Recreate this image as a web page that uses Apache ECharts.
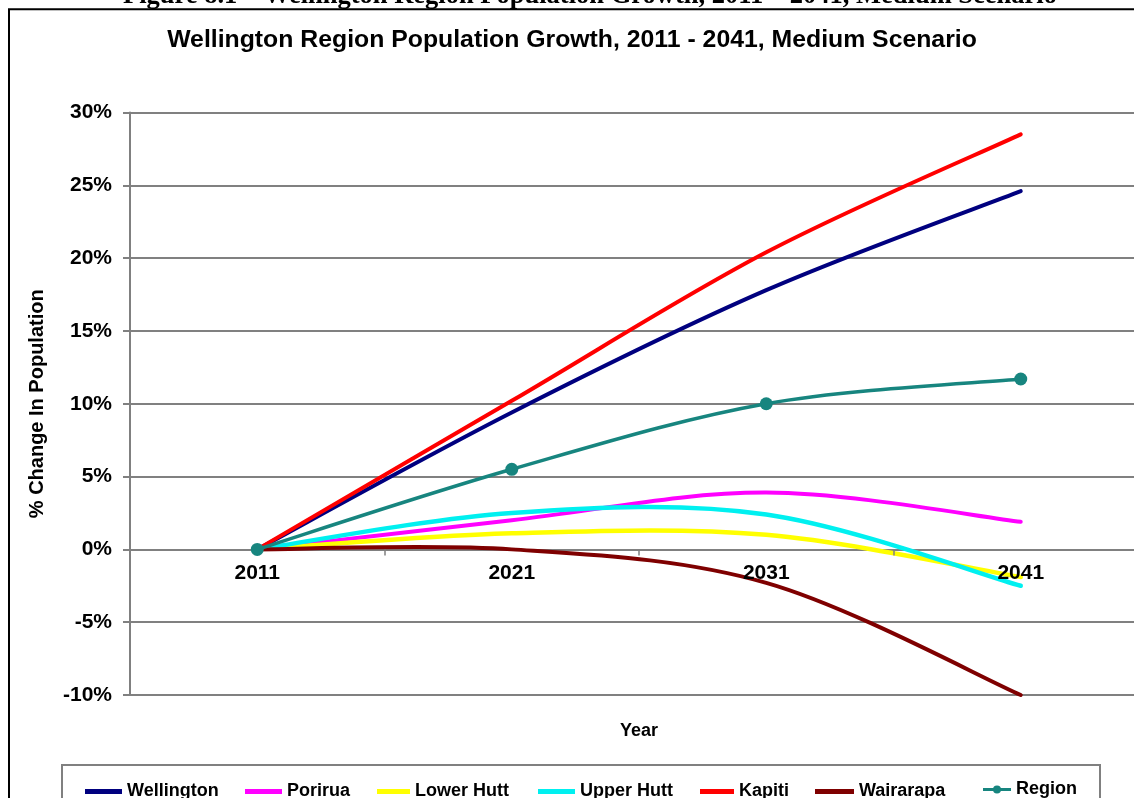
<!DOCTYPE html>
<html>
<head>
<meta charset="utf-8">
<script src="https://cdn.jsdelivr.net/npm/echarts@6/dist/echarts.min.js"></script>
<style>
html,body{margin:0;padding:0;background:#fff;}
#chart{width:1134px;height:798px;}
</style>
</head>
<body>
<div id="chart"></div>
<script>
const years = ['2011', '2021', '2031', '2041'];
const wellington = [0, 9.4, 17.8, 24.6];
const porirua = [0, 2.0, 3.9, 1.9];
const lowerHutt = [0, 1.1, 1.0, -1.9];
const upperHutt = [0, 2.5, 2.4, -2.5];
const kapiti = [0, 10.2, 20.4, 28.5];
const wairarapa = [0, 0.0, -2.3, -10.0];
const region = [0, 5.5, 10.0, 11.7];
const yTicks = [-10, -5, 0, 5, 10, 15, 20, 25, 30];

const seriesDefs = [
  {name: 'Wellington', data: wellington, color: '#00007f', width: 4},
  {name: 'Porirua', data: porirua, color: '#ff00ff', width: 4},
  {name: 'Lower Hutt', data: lowerHutt, color: '#ffff00', width: 4.5},
  {name: 'Upper Hutt', data: upperHutt, color: '#00f0f0', width: 4.5},
  {name: 'Kapiti', data: kapiti, color: '#ff0000', width: 4},
  {name: 'Wairarapa', data: wairarapa, color: '#7f0000', width: 4},
  {name: 'Region', data: region, color: '#17857f', width: 3.5, marker: true}
];
const legendLeft = [85, 245, 377, 538, 700, 815, 983];
const legendIconW = [37, 37, 33, 37, 34, 39, 28];

const chart = echarts.init(document.getElementById('chart'), null, {renderer: 'canvas'});
const font = 'Arial, "Liberation Sans", sans-serif';

const gridTop = 112.5, gridHeight = 582.5;
const yMin = yTicks[0], yMax = yTicks[yTicks.length - 1];
// move the category axis up to the 0% line (where Excel draws it)
const xAxisOffset = -gridHeight * (0 - yMin) / (yMax - yMin);

// Excel-like smoothed line (Catmull-Rom through the data points, mapped by the axes)
function smoothPath(pts) {
  let d = 'M' + pts[0][0] + ',' + pts[0][1];
  const n = pts.length;
  for (let i = 0; i < n - 1; i++) {
    const p0 = pts[Math.max(i - 1, 0)], p1 = pts[i], p2 = pts[i + 1], p3 = pts[Math.min(i + 2, n - 1)];
    const c1x = p1[0] + (p2[0] - p0[0]) / 6, c1y = p1[1] + (p2[1] - p0[1]) / 6;
    const c2x = p2[0] - (p3[0] - p1[0]) / 6, c2y = p2[1] - (p3[1] - p1[1]) / 6;
    d += 'C' + c1x + ',' + c1y + ' ' + c2x + ',' + c2y + ' ' + p2[0] + ',' + p2[1];
  }
  return d;
}

function makeSeries(s) {
  return {
    name: s.name,
    type: 'custom',
    coordinateSystem: 'cartesian2d',
    data: s.data.map((v, i) => [i, v]),
    encode: {x: 0, y: 1},
    itemStyle: {color: s.color},
    clip: false,
    renderItem: function (params, api) {
      const children = [];
      if (params.dataIndex === 0) {
        const pts = s.data.map((v, i) => api.coord([i, v]));
        children.push({
          type: 'path',
          shape: {pathData: smoothPath(pts)},
          style: {stroke: s.color, lineWidth: s.width, fill: null, lineCap: 'round', lineJoin: 'round'}
        });
      }
      if (s.marker) {
        const c = api.coord([api.value(0), api.value(1)]);
        children.push({
          type: 'circle', z2: 5,
          shape: {cx: c[0], cy: c[1], r: 6.5},
          style: {fill: s.color}
        });
      }
      return {type: 'group', children: children};
    }
  };
}

const option = {
  backgroundColor: '#ffffff',
  animation: false,
  textStyle: {fontFamily: font},
  grid: {left: 130, top: gridTop, width: 1018, height: gridHeight, containLabel: false, outerBoundsMode: 'none'},
  xAxis: {
    type: 'category',
    data: years,
    boundaryGap: true,
    z: 10,
    position: 'bottom',
    offset: xAxisOffset,
    axisLine: {show: true, onZero: false, lineStyle: {color: '#808080', width: 2, opacity: 0}},
    axisTick: {show: true, length: 6, lineStyle: {color: '#808080', width: 1.5}},
    axisLabel: {color: '#000', fontSize: 21, fontWeight: 'bold', margin: 13, fontFamily: font},
    splitLine: {show: false},
    name: 'Year',
    nameLocation: 'middle',
    nameGap: 173,
    nameMoveOverlap: false,
    nameTextStyle: {color: '#000', fontSize: 18, fontWeight: 'bold', fontFamily: font}
  },
  yAxis: {
    type: 'value',
    min: yMin,
    max: yMax,
    interval: 5,
    axisLine: {show: true, onZero: false, lineStyle: {color: '#808080', width: 2}},
    axisTick: {show: true, length: 7, lineStyle: {color: '#808080', width: 2}},
    axisLabel: {color: '#000', fontSize: 21, fontWeight: 'bold', margin: 18, formatter: '{value}%', fontFamily: font},
    splitLine: {show: true, lineStyle: {color: '#808080', width: 2}},
    name: '% Change In Population',
    nameLocation: 'middle',
    nameRotate: 90,
    nameGap: 83,
    nameMoveOverlap: false,
    nameTextStyle: {color: '#000', fontSize: 20, fontWeight: 'bold', fontFamily: font}
  },
  legend: seriesDefs.map((s, i) => ({
    data: [{
      name: s.name,
      icon: s.marker ? 'path://M0,4.5H28V7.5H0Z M10,6a4,4 0 1,1 8,0a4,4 0 1,1 -8,0Z' : 'rect'
    }],
    left: legendLeft[i],
    top: s.marker ? 780.5 : 782.5,
    padding: 0,
    itemWidth: legendIconW[i],
    itemHeight: s.marker ? 9 : 5,
    itemGap: 0,
    selectedMode: false,
    itemStyle: {color: s.color, borderWidth: 0},
    textStyle: {color: '#000', fontSize: 18, fontWeight: 'bold', fontFamily: font}
  })),
  series: seriesDefs.map(makeSeries),
  graphic: [
    {type: 'rect', silent: true, z: -1, shape: {x: 9, y: 9.3, width: 1300, height: 1000},
     style: {stroke: '#000', lineWidth: 2, fill: null}},
    {type: 'text', silent: true, x: 590, y: 10, style: {
      text: 'Figure 8.1 \u2013 Wellington Region Population Growth, 2011 \u2013 2041, Medium Scenario',
      fontFamily: '"Times New Roman", "Liberation Serif", serif', fontWeight: 'bold', fontSize: 26.5,
      fill: '#000', textAlign: 'center', textVerticalAlign: 'bottom'}},
    {type: 'text', silent: true, x: 572, y: 40, style: {
      text: 'Wellington Region Population Growth, 2011 - 2041, Medium Scenario',
      fontFamily: font, fontWeight: 'bold', fontSize: 24.8,
      fill: '#000', textAlign: 'center', textVerticalAlign: 'middle'}},
    {type: 'rect', silent: true, z: -1, shape: {x: 62, y: 765, width: 1038, height: 60},
     style: {stroke: '#808080', lineWidth: 2, fill: '#fff'}}
  ]
};
chart.setOption(option);
</script>
</body>
</html>
